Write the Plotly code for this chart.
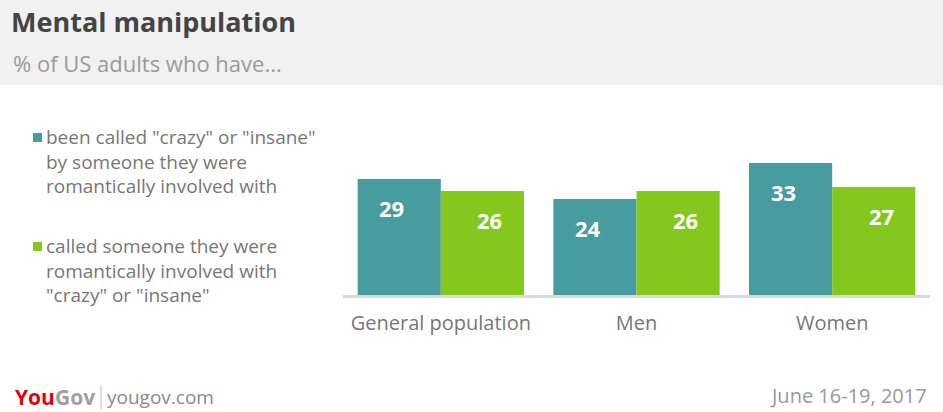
import plotly.graph_objects as go

categories = ["General population", "Men", "Women"]
legend_lines = [
    ['been called "crazy" or "insane"', "by someone they were", "romantically involved with"],
    ["called someone they were", "romantically involved with", '"crazy" or "insane"'],
]
been_called = [29, 24, 33]
called_someone = [26, 26, 27]
colors = ["#469c9f", "#84c81d"]

FONT = "Open Sans"
W, H = 943, 412

fig = go.Figure()
for vals, col in [(been_called, colors[0]), (called_someone, colors[1])]:
    fig.add_trace(go.Bar(x=categories, y=vals, marker=dict(color=col, line_width=0),
                         hoverinfo="skip", showlegend=False))

annotations = []
# value labels inside bars
for vals, off in [(been_called, -0.25), (called_someone, 0.25)]:
    for i, v in enumerate(vals):
        annotations.append(dict(x=i + off, y=v, xref="x", yref="y", text=f"<b>{v}</b>",
                                showarrow=False, yshift=-29, yanchor="middle",
                                font=dict(family=FONT, size=22, color="white")))

# header
annotations += [
    dict(x=9 / W, y=1 - 22 / H, xref="paper", yref="paper", xanchor="left", yanchor="middle",
         text="<b>Mental manipulation</b>", showarrow=False,
         font=dict(family=FONT, size=27, color="#444444")),
    dict(x=11 / W, y=1 - 63 / H, xref="paper", yref="paper", xanchor="left", yanchor="middle",
         text="% of US adults who have...", showarrow=False,
         font=dict(family=FONT, size=22, color="#9a9a9a")),
]

# legend (multi-line text blocks)
for lines, ytop in [(legend_lines[0], 122), (legend_lines[1], 231)]:
    annotations.append(dict(x=44 / W, y=1 - ytop / H, xref="paper", yref="paper",
                            xanchor="left", yanchor="top", align="left", text="<br>".join(lines),
                            showarrow=False, font=dict(family=FONT, size=19, color="#777777")))

# footer
annotations += [
    dict(x=13 / W, y=1 - 397 / H, xref="paper", yref="paper", xanchor="left", yanchor="middle",
         text="<b><span style='color:#e3000f'>You</span><span style='color:#a0a0a0'>Gov</span></b>",
         showarrow=False, font=dict(family=FONT, size=21)),
    dict(x=105 / W, y=1 - 397 / H, xref="paper", yref="paper", xanchor="left", yanchor="middle",
         text="yougov.com", showarrow=False, font=dict(family=FONT, size=19, color="#8a8a8a")),
    dict(x=929 / W, y=1 - 395 / H, xref="paper", yref="paper", xanchor="right", yanchor="middle",
         text="June 16-19, 2017", showarrow=False, font=dict(family=FONT, size=20, color="#999999")),
]

shapes = [
    dict(type="rect", xref="paper", yref="paper", x0=0, x1=1, y0=1 - 85 / H, y1=1,
         fillcolor="#f1f1f1", line_width=0, layer="below"),
    dict(type="rect", xref="paper", yref="paper", x0=33 / W, x1=42 / W, y0=1 - 142 / H, y1=1 - 133 / H,
         fillcolor=colors[0], line_width=0),
    dict(type="rect", xref="paper", yref="paper", x0=33 / W, x1=42 / W, y0=1 - 251 / H, y1=1 - 242 / H,
         fillcolor=colors[1], line_width=0),
    dict(type="line", xref="paper", yref="paper", x0=101 / W, x1=101 / W, y0=1 - 409 / H, y1=1 - 385 / H,
         line=dict(color="#bbbbbb", width=1)),
]

fig.update_layout(
    width=W, height=H, margin=dict(l=0, r=0, t=0, b=0),
    paper_bgcolor="white", plot_bgcolor="white",
    barmode="group", bargap=0.15, bargroupgap=0,
    xaxis=dict(domain=[343 / W, 930 / W], showline=True, linecolor="#d9d9d9", linewidth=3,
               showgrid=False, ticks="", ticklabelstandoff=8,
               tickfont=dict(family=FONT, size=20, color="#777777"), fixedrange=True),
    yaxis=dict(domain=[(H - 295) / H, (H - 135) / H], range=[0, 40], visible=False, fixedrange=True),
    annotations=annotations, shapes=shapes,
)

fig.write_html("out.html", config={"displayModeBar": False},
               post_script="document.body.style.margin='0';")
